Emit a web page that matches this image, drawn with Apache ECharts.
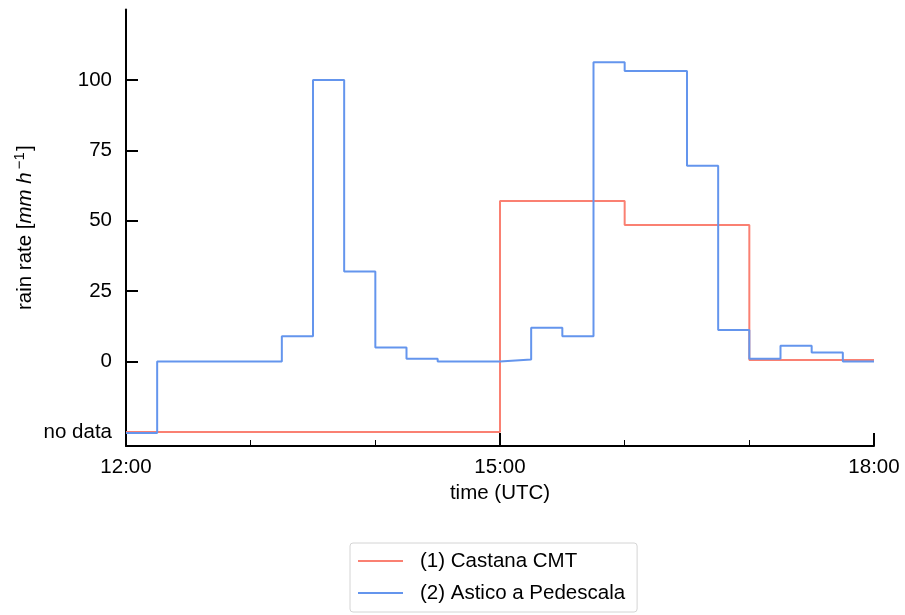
<!DOCTYPE html>
<html>
<head>
<meta charset="utf-8">
<script src="https://cdn.jsdelivr.net/npm/echarts@6/dist/echarts.min.js"></script>
<style>html,body{margin:0;padding:0;background:#fff}#c{width:905px;height:615px}</style>
</head>
<body>
<div id="c"></div>
<script>
// Data (value -25 stands for "no data")
const seriesNames = ['(1) Castana CMT', '(2) Astico a Pedescala'];
const castanaTimes  = ['12:00', '15:00', '16:00', '17:00', '18:00'];
const castanaValues = [-25, 57, 48.5, 0.5, 0.5];
const asticoTimes  = ['12:00','12:15','13:15','13:30','13:45','14:00','14:15','14:30','15:00','15:15','15:30','15:45','16:00','16:30','16:45','17:00','17:15','17:30','17:45','18:00'];
const asticoValues = [-25.4, 0, 9, 100, 32, 5, 1, 0, 0.7, 12, 9, 106.3, 103.2, 69.5, 11.2, 1, 5.6, 3.2, 0, 0];
const yTickValues = [0, 25, 50, 75, 100];
const yLabelValues = [-25, 0, 25, 50, 75, 100];
const xLabelValues = [12, 15, 18];

function toHours(t) { const p = t.split(':'); return +p[0] + (+p[1]) / 60; }
function pairs(ts, vs) { return ts.map((t, i) => [toHours(t), vs[i]]); }
function fmtHour(v) { return (v < 10 ? '0' : '') + Math.round(v) + ':00'; }

const font = 'Liberation Sans';
const fs = 20.5;
const red = '#FA8072', blue = '#6495ED';
const chart = echarts.init(document.getElementById('c'));
chart.setOption({
  animation: false,
  textStyle: { fontFamily: font },
  grid: { left: 126, right: 31, top: 9.5, bottom: 169 },
  legend: {
    orient: 'vertical',
    left: 350, top: 543,
    padding: [7, 12, 8, 8],
    itemGap: 10,
    itemWidth: 45, itemHeight: 2,
    icon: 'rect',
    borderColor: '#d4d4d4', borderWidth: 1, borderRadius: 3,
    textStyle: { fontFamily: font, fontSize: fs, lineHeight: 22, color: '#000', padding: [0, 0, 0, 12] },
    data: [{ name: seriesNames[0], itemStyle: { color: red } }, { name: seriesNames[1], itemStyle: { color: blue } }]
  },
  xAxis: {
    type: 'value', min: 12, max: 18, interval: 3,
    name: 'time (UTC)', nameLocation: 'middle', nameGap: 37,
    nameTextStyle: { fontFamily: font, fontSize: fs, color: '#000' },
    axisLine: { show: true, onZero: false, lineStyle: { color: '#000', width: 2 } },
    axisTick: { show: true, inside: true, length: 13, lineStyle: { color: '#000', width: 2 } },
    minorTick: { show: true, splitNumber: 3, length: 6, lineStyle: { color: '#000', width: 1 } },
    splitLine: { show: false },
    axisLabel: { fontFamily: font, fontSize: fs, color: '#000', margin: 11, formatter: fmtHour, customValues: xLabelValues }
  },
  yAxis: {
    type: 'value', min: -30, max: 125,
    name: '{n|rain rate [}{it|mm h}{sup|−1}{n|]}', nameLocation: 'middle', nameGap: 88,
    nameMoveOverlap: false,
    nameTextStyle: {
      fontFamily: font, fontSize: fs, color: '#000',
      rich: {
        n: { fontFamily: font, fontSize: fs, color: '#000' },
        it: { fontFamily: font, fontSize: fs, fontStyle: 'italic', color: '#000' },
        sup: { fontFamily: font, fontSize: 15, color: '#000', padding: [0, 1, 11, 3] }
      }
    },
    axisLine: { show: true, onZero: false, lineStyle: { color: '#000', width: 2 } },
    axisTick: { show: true, inside: true, length: 12, lineStyle: { color: '#000', width: 2 }, customValues: yTickValues },
    splitLine: { show: false },
    axisLabel: {
      fontFamily: font, fontSize: fs, color: '#000', margin: 14,
      customValues: yLabelValues,
      formatter: v => v === -25 ? 'no data' : String(v)
    }
  },
  series: [
    {
      name: seriesNames[0], type: 'line', step: 'end', symbol: 'none',
      color: red, lineStyle: { width: 2, color: red },
      data: pairs(castanaTimes, castanaValues)
    },
    {
      name: seriesNames[1], type: 'line', step: 'end', symbol: 'none',
      color: blue, lineStyle: { width: 2, color: blue },
      data: pairs(asticoTimes, asticoValues)
    }
  ]
});
</script>
</body>
</html>
